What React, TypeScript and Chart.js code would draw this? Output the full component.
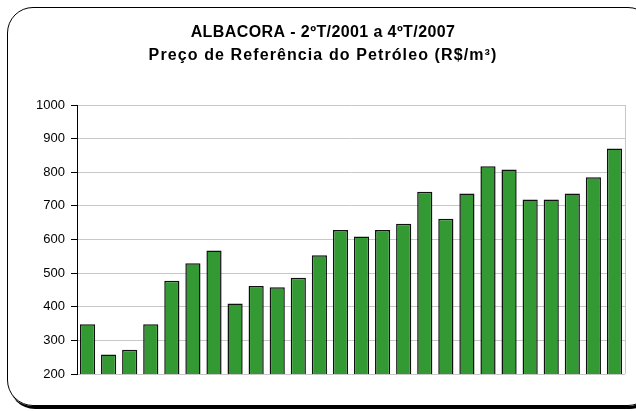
import React, { useEffect, useRef } from "react";
import { Chart, registerables } from "chart.js";

Chart.register(...registerables);

const quarters = [
  "2T/2001", "3T/2001", "4T/2001",
  "1T/2002", "2T/2002", "3T/2002", "4T/2002",
  "1T/2003", "2T/2003", "3T/2003", "4T/2003",
  "1T/2004", "2T/2004", "3T/2004", "4T/2004",
  "1T/2005", "2T/2005", "3T/2005", "4T/2005",
  "1T/2006", "2T/2006", "3T/2006", "4T/2006",
  "1T/2007", "2T/2007", "3T/2007",
];
const precos = [
  348, 258, 272, 348, 477, 529, 567, 410, 462, 458, 486, 553,
  628, 609, 628, 647, 742, 662, 737, 818, 808, 719, 719, 737, 785, 871,
];
const titleLines = [
  "ALBACORA - 2ºT/2001 a 4ºT/2007",
  "Preço de Referência do Petróleo (R$/m³)",
];
const yMin = 200;
const yMax = 1000;
const yStep = 100;

const FONT = "'Liberation Sans', Arial, sans-serif";

const decorations = {
  id: "decorations",
  afterDraw(chart: any) {
    const { ctx, chartArea } = chart;
    ctx.save();
    ctx.strokeStyle = "#c8c8c8";
    ctx.lineWidth = 1;
    ctx.beginPath();
    ctx.moveTo(Math.round(chartArea.right) + 0.5, chartArea.top);
    ctx.lineTo(Math.round(chartArea.right) + 0.5, chartArea.bottom);
    ctx.stroke();
    ctx.fillStyle = "#000";
    ctx.font = `bold 16px ${FONT}`;
    ctx.textAlign = "center";
    ctx.textBaseline = "middle";
    (ctx as any).letterSpacing = "0.4px";
    ctx.fillText(titleLines[0], 323, 33);
    (ctx as any).letterSpacing = "1.1px";
    ctx.fillText(titleLines[1], 323, 56);
    ctx.restore();
  },
};

export default function App() {
  const ref = useRef<HTMLCanvasElement>(null);
  useEffect(() => {
    document.body.style.overflow = "hidden";
    const chart = new Chart(ref.current!, {
      type: "bar",
      data: {
        labels: quarters,
        datasets: [
          {
            data: precos,
            backgroundColor: "#339933",
            borderColor: "#101010",
            borderWidth: 1.5,
            borderSkipped: false,
            barPercentage: 0.72,
            categoryPercentage: 1,
          },
        ],
      },
      options: {
        animation: false,
        responsive: false,
        layout: { padding: { left: 0, right: 11, top: 105, bottom: 37 } },
        plugins: {
          legend: { display: false },
          tooltip: { enabled: false },
          title: { display: false },
        },
        scales: {
          x: {
            display: false,
          },
          y: {
            min: yMin,
            max: yMax,
            afterFit: (s: any) => {
              s.width = 77;
            },
            ticks: {
              stepSize: yStep,
              color: "#000",
              font: { family: FONT, size: 13 },
              padding: 6,
              callback: (v: any) => String(v),
            },
            grid: { color: "#c8c8c8", tickColor: "#000", tickLength: 6 },
            border: { display: true, color: "#000", width: 1 },
          },
        },
      },
      plugins: [decorations],
    });
    return () => chart.destroy();
  }, []);
  return (
    <div style={{ position: "fixed", left: 0, top: 0, width: 636, height: 411, overflow: "hidden", background: "#fff" }}>
      <div
        style={{
          position: "absolute",
          left: 7,
          top: 7,
          width: 645,
          height: 397,
          border: "1px solid #000",
          borderRadius: 26,
          boxShadow: "2px 3px 0 #000",
        }}
      />
      <canvas ref={ref} width={636} height={411} style={{ position: "absolute", left: 0, top: 0 }} />
    </div>
  );
}
